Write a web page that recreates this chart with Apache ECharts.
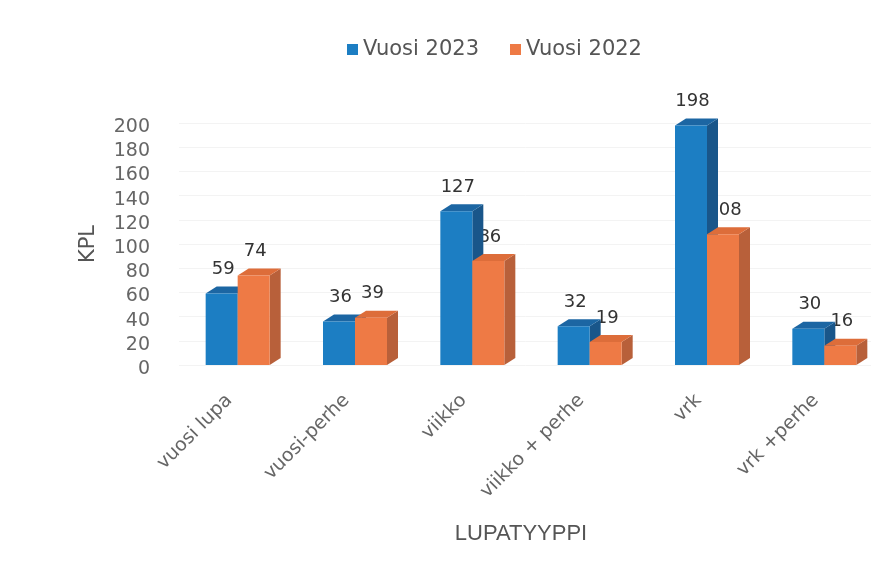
<!DOCTYPE html>
<html>
<head>
<meta charset="utf-8">
<script src="https://cdn.jsdelivr.net/npm/echarts@6/dist/echarts.min.js"></script>
<style>
  html, body { margin: 0; padding: 0; background: #fff; }
  #chart { width: 871px; height: 580px; }
</style>
</head>
<body>
<div id="chart"></div>
<script>
// Data
const categories = ['vuosi lupa', 'vuosi-perhe', 'viikko', 'viikko + perhe', 'vrk', 'vrk +perhe'];
const values2023 = [59, 36, 127, 32, 198, 30];
const values2022 = [74, 39, 86, 19, 108, 16];
const yTicks = { min: 0, max: 200, interval: 20 };

const BLUE = { front: '#1c7ec3', top: '#1c66a3', side: '#19568a' };
const ORANGE = { front: '#ee7a45', top: '#dd6d3a', side: '#b8603a' };
const BAR_W = 32, DX = 11, DY = -7;
const FONT = '"DejaVu Sans", Verdana, sans-serif';

// 3D-ish box; offset = -1 puts the bar left of the category centre, 0 right of it
function boxRenderer(colors, offset) {
    return function (params, api) {
        const base = api.coord([api.value(0), 0]);
        const top = api.coord([api.value(0), api.value(1)]);
        const x0 = base[0] + offset * BAR_W, x1 = x0 + BAR_W;
        const y0 = base[1], y1 = top[1];
        return {
            type: 'group',
            children: [
                { type: 'polygon', shape: { points: [[x1, y1], [x1 + DX, y1 + DY], [x1 + DX, y0 + DY], [x1, y0]] },
                  style: { fill: colors.side } },
                { type: 'polygon', shape: { points: [[x0, y1], [x0 + DX, y1 + DY], [x1 + DX, y1 + DY], [x1, y1]] },
                  style: { fill: colors.top } },
                { type: 'rect', shape: { x: x0, y: y1, width: BAR_W, height: y0 - y1 },
                  style: { fill: colors.front } }
            ]
        };
    };
}

function labelRenderer(offset) {
    return function (params, api) {
        const top = api.coord([api.value(0), api.value(1)]);
        const cx = top[0] + offset * BAR_W + BAR_W / 2 + 1.5;
        return {
            type: 'text',
            style: {
                text: String(api.value(1)),
                x: cx, y: top[1] + DY - 8,
                align: 'center', verticalAlign: 'bottom',
                fill: '#333', font: '18px ' + FONT
            }
        };
    };
}

const chart = echarts.init(document.getElementById('chart'));
const option = {
    backgroundColor: '#fff',
    animation: false,
    legend: {
        data: [
            { name: 'Vuosi 2023', itemStyle: { color: BLUE.front } },
            { name: 'Vuosi 2022', itemStyle: { color: ORANGE.front } }
        ],
        left: 342, top: 34,
        icon: 'rect', itemWidth: 11, itemHeight: 11, itemGap: 31, itemTextGap: 4,
        textStyle: { fontSize: 21, color: '#555', fontFamily: FONT }
    },
    grid: { left: 179, top: 123, width: 704, height: 242, outerBoundsMode: 'none' },
    xAxis: {
        type: 'category',
        data: categories,
        name: 'LUPATYYPPI',
        nameLocation: 'middle',
        nameGap: 158,
        nameTextStyle: { fontSize: 22, color: '#555', fontFamily: '"Liberation Sans Narrow", "Liberation Sans", sans-serif', padding: [0, 20, 0, 0] },
        axisLine: { show: false },
        axisTick: { show: false },
        axisLabel: { rotate: 45, margin: 24, fontSize: 19, color: '#666', fontFamily: FONT, interval: 0, padding: [0, 12, 0, 0] }
    },
    yAxis: {
        type: 'value',
        min: yTicks.min, max: yTicks.max, interval: yTicks.interval,
        name: 'KPL',
        nameLocation: 'middle',
        nameGap: 80,
        nameTextStyle: { fontSize: 21, color: '#555', fontFamily: FONT },
        axisLine: { show: false },
        axisTick: { show: false },
        axisLabel: { margin: 29, fontSize: 19, color: '#666', fontFamily: FONT, verticalAlign: 'top', lineHeight: 8 },
        splitLine: { lineStyle: { color: '#f3f3f3' } }
    },
    series: [
        {
            // orange labels sit under the blue boxes (the scan hides their first digit)
            name: 'Vuosi 2022', type: 'custom', z: 1,
            itemStyle: { color: ORANGE.front },
            renderItem: labelRenderer(0),
            data: values2022.map((v, i) => [i, v])
        },
        {
            name: 'Vuosi 2023', type: 'custom', z: 2,
            itemStyle: { color: BLUE.front },
            renderItem: boxRenderer(BLUE, -1),
            data: values2023.map((v, i) => [i, v])
        },
        {
            name: 'Vuosi 2022', type: 'custom', z: 3,
            itemStyle: { color: ORANGE.front },
            renderItem: boxRenderer(ORANGE, 0),
            data: values2022.map((v, i) => [i, v])
        },
        {
            name: 'Vuosi 2023', type: 'custom', z: 4,
            itemStyle: { color: BLUE.front },
            renderItem: labelRenderer(-1),
            data: values2023.map((v, i) => [i, v])
        }
    ]
};
chart.setOption(option);
</script>
</body>
</html>
